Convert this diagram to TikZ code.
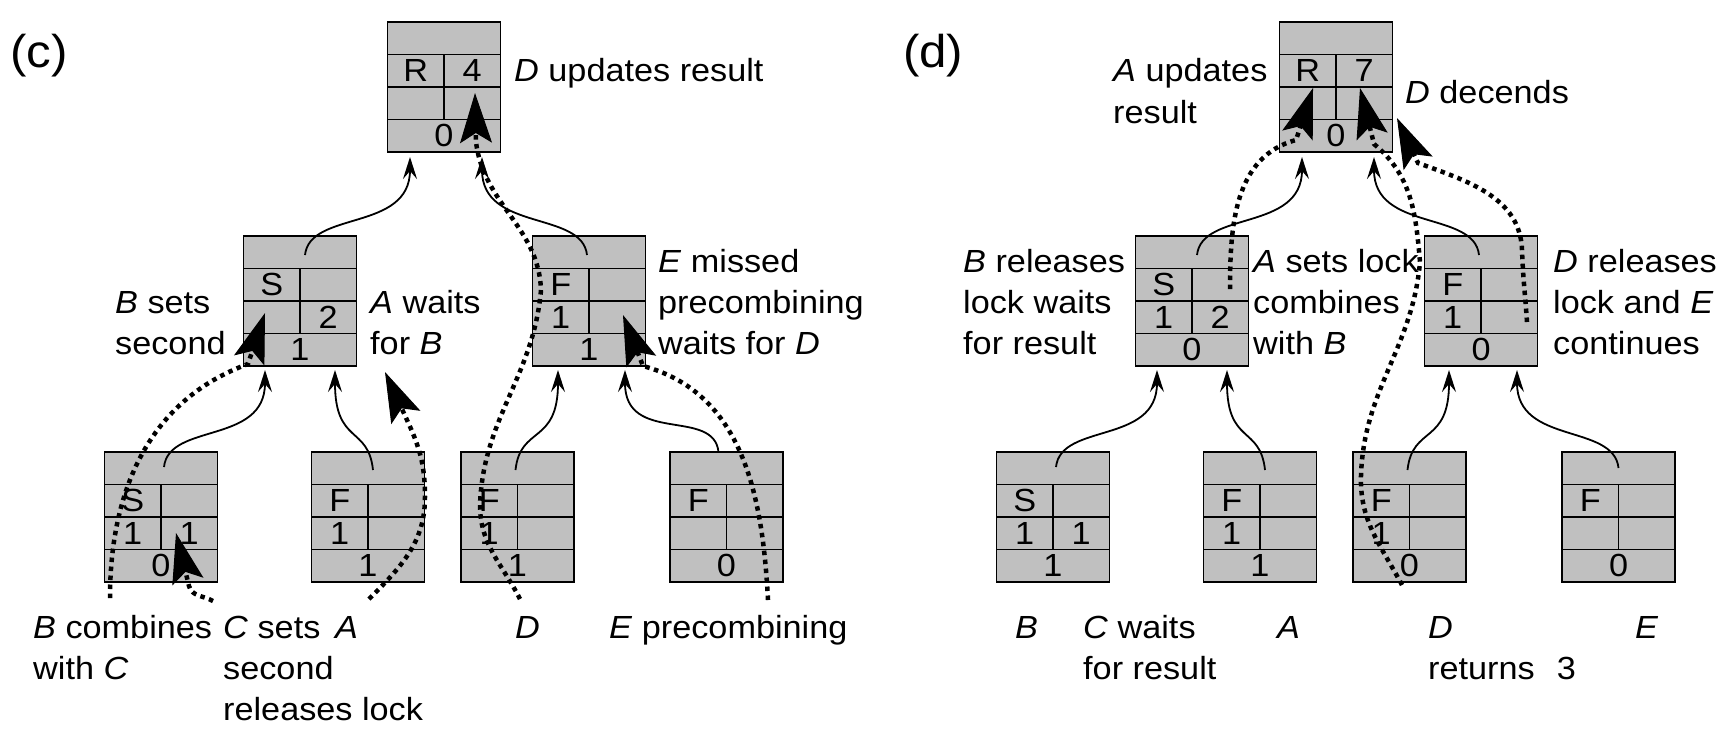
\documentclass[tikz,border=0pt]{standalone}
\usepackage{fontspec}
\setmainfont{Liberation Sans}[FakeStretch=1.07]
\usetikzlibrary{arrows.meta}
\definecolor{boxgray}{RGB}{192,192,192}
\newcommand\cellbox[8]{%
  \node[box] (#1) at (#2,#3) {};
  \draw[gridline] ([yshift=-32.5pt]#1.north west) -- ([yshift=-32.5pt]#1.north east);
  \draw[gridline] ([yshift=-65pt]#1.north west) -- ([yshift=-65pt]#1.north east);
  \draw[gridline] ([yshift=32.5pt]#1.south west) -- ([yshift=32.5pt]#1.south east);
  \draw[gridline] ([yshift=-32.5pt]#1.north) -- ([yshift=32.5pt]#1.south);
  \node[celltxt] (#1-a) at ([xshift=-28.25pt,yshift=-48.75pt]#1.north) {#4};
  \node[celltxt] (#1-b) at ([xshift=28.25pt,yshift=-48.75pt]#1.north) {#5};
  \node[celltxt] (#1-c) at ([xshift=-28.25pt,yshift=-81.25pt]#1.north) {#6};
  \node[celltxt] (#1-d) at ([xshift=28.25pt,yshift=-81.25pt]#1.north) {#7};
  \node[celltxt] (#1-e) at ([yshift=16.25pt]#1.south) {#8};
}
\newcommand\mylab[4]{\node[lab] (#1) at (#2,#3) {#4};}
\begin{document}
\begin{tikzpicture}[x=1pt,y=1pt,
  every node/.style={font=\fontsize{32pt}{41pt}\selectfont},
  box/.style={draw=black,line width=1.7pt,fill=boxgray,minimum width=113pt,minimum height=130pt,inner sep=0pt,outer sep=0pt},
  gridline/.style={line width=1.5pt},
  celltxt/.style={inner sep=0pt,text height=22pt,text depth=0pt},
  lab/.style={inner sep=0pt,anchor=base west},
  tag/.style={lab,font=\fontsize{46pt}{52pt}\selectfont},
  conn/.style={line width=1.8pt,-{Stealth[length=22pt,width=14pt,inset=8pt]}},
  dotp/.style={line width=4.5pt,dash pattern=on 4.5pt off 4.5pt,-{Stealth[length=50pt,width=32pt,inset=10pt,line width=1pt]}},
  upr/.style={out=84,in=-90,out distance=45pt,in distance=75pt},
  upl/.style={out=96,in=-90,out distance=45pt,in distance=75pt},
]
\fill[white] (0,0) rectangle (1731,-740);
\useasboundingbox (0,0) rectangle (1731,-740);

% ---------------- panel (c) ----------------
\cellbox{cR}{444}{-87}{R}{4}{}{}{0}
\cellbox{cML}{300}{-301}{S}{}{}{2}{1}
\cellbox{cMR}{589}{-301}{F}{}{1}{}{1}
\cellbox{cB1}{161}{-517}{S}{}{1}{1}{0}
\cellbox{cB2}{368}{-517}{F}{}{1}{}{1}
\cellbox{cB3}{517.5}{-517}{F}{}{1}{}{1}
\cellbox{cB4}{726.5}{-517}{F}{}{}{}{0}

\draw[conn] ([xshift=3pt,yshift=-15pt]cB1.north) to[upr] ([xshift=-35pt,yshift=-4pt]cML.south);
\draw[conn] ([xshift=5pt,yshift=-18pt]cB2.north) to[upl] ([xshift=35pt,yshift=-4pt]cML.south);
\draw[conn] ([xshift=-2pt,yshift=-18pt]cB3.north) to[upr] ([xshift=-31pt,yshift=-4pt]cMR.south);
\draw[conn] ([xshift=-8pt,yshift=0pt]cB4.north) to[upl] ([xshift=36pt,yshift=-4pt]cMR.south);
\draw[conn] ([xshift=5pt,yshift=-19pt]cML.north) to[upr] ([xshift=-34pt,yshift=-5pt]cR.south);
\draw[conn] ([xshift=-2pt,yshift=-19pt]cMR.north) to[upl] ([xshift=38pt,yshift=-5pt]cR.south);

\node[tag] (cTag) at (10,-67) {(c)};
\mylab{cL1}{514}{-81}{\textit{D} updates result}
\mylab{cL2a}{115}{-313}{\textit{B} sets}
\mylab{cL2b}{115}{-354}{second}
\mylab{cL3a}{370}{-313}{\textit{A} waits}
\mylab{cL3b}{370}{-354}{for \textit{B}}
\mylab{cL4a}{658}{-272}{\textit{E} missed}
\mylab{cL4b}{658}{-313}{precombining}
\mylab{cL4c}{658}{-354}{waits for \textit{D}}
\mylab{cL5a}{33}{-638}{\textit{B} combines}
\mylab{cL5b}{33}{-679}{with \textit{C}}
\mylab{cL6a}{223}{-638}{\textit{C} sets}
\mylab{cL6b}{223}{-679}{second}
\mylab{cL6c}{223}{-720}{releases lock}
\mylab{cL7}{335}{-638}{\textit{A}}
\mylab{cL8}{515}{-638}{\textit{D}}
\mylab{cL9}{609}{-638}{\textit{E} precombining}

\coordinate (cDs) at (520,-599);  \coordinate (cDt) at (475,-93);
\coordinate (cEs) at (768,-600);  \coordinate (cEt) at (623,-315);
\coordinate (cAs) at (369,-599);  \coordinate (cAt) at (385,-372);
\coordinate (cCs) at (213,-601);  \coordinate (cCt) at (176,-533);
\coordinate (cBs) at (110,-598);  \coordinate (cBt) at (265,-313);
\draw[dotp] (cDs) to[out=117,in=-90] (480,-505) to[out=88,in=-95] (541,-290) to[out=92,in=-83] (476,-142) -- (cDt);
\draw[dotp] (cEs) to[out=93,in=-15] (643,-366) -- (cEt);
\draw[dotp] (cAs) to[out=45,in=-90] (425,-497) to[out=90,in=-65] (407,-420) -- (cAt);
\draw[dotp] (cCs) to[out=150,in=-75] (189,-586) -- (cCt);
\draw[dotp] (cBs) to[out=90,in=200] (248,-364) -- (cBt);

% ---------------- panel (d) ----------------
\cellbox{dR}{1336}{-87}{R}{7}{}{}{0}
\cellbox{dML}{1192}{-301}{S}{}{1}{2}{0}
\cellbox{dMR}{1481}{-301}{F}{}{1}{}{0}
\cellbox{dB1}{1053}{-517}{S}{}{1}{1}{1}
\cellbox{dB2}{1260}{-517}{F}{}{1}{}{1}
\cellbox{dB3}{1409.5}{-517}{F}{}{1}{}{0}
\cellbox{dB4}{1618.5}{-517}{F}{}{}{}{0}

\draw[conn] ([xshift=3pt,yshift=-15pt]dB1.north) to[upr] ([xshift=-35pt,yshift=-4pt]dML.south);
\draw[conn] ([xshift=5pt,yshift=-18pt]dB2.north) to[upl] ([xshift=35pt,yshift=-4pt]dML.south);
\draw[conn] ([xshift=-2pt,yshift=-18pt]dB3.north) to[upr] ([xshift=-32pt,yshift=-4pt]dMR.south);
\draw[conn] ([xshift=0pt,yshift=-16pt]dB4.north) to[upl] ([xshift=36pt,yshift=-4pt]dMR.south);
\draw[conn] ([xshift=5pt,yshift=-19pt]dML.north) to[upr] ([xshift=-34pt,yshift=-5pt]dR.south);
\draw[conn] ([xshift=-2pt,yshift=-19pt]dMR.north) to[upl] ([xshift=38pt,yshift=-5pt]dR.south);

\node[tag] (dTag) at (903,-67) {(d)};
\mylab{dL1a}{1113}{-81.5}{\textit{A} updates}
\mylab{dL1b}{1113}{-123}{result}
\mylab{dL2}{1405}{-103}{\textit{D} decends}
\mylab{dL3a}{963}{-272}{\textit{B} releases}
\mylab{dL3b}{963}{-313}{lock waits}
\mylab{dL3c}{963}{-354}{for result}
\mylab{dL4a}{1253}{-272}{\textit{A} sets lock}
\mylab{dL4b}{1253}{-313}{combines}
\mylab{dL4c}{1253}{-354}{with \textit{B}}
\mylab{dL5a}{1553}{-272}{\textit{D} releases}
\mylab{dL5b}{1553}{-313}{lock and \textit{E}}
\mylab{dL5c}{1553}{-354}{continues}
\mylab{dL6}{1015}{-638}{\textit{B}}
\mylab{dL7a}{1083}{-638}{\textit{C} waits}
\mylab{dL7b}{1083}{-679}{for result}
\mylab{dL8}{1277}{-638}{\textit{A}}
\mylab{dL9a}{1428}{-638}{\textit{D}}
\mylab{dL9b}{1428}{-679}{returns\hspace{22pt}3}
\mylab{dL10}{1635}{-638}{\textit{E}}

\coordinate (dAs) at (1230,-289);  \coordinate (dAt) at (1313,-88);
\coordinate (dDs) at (1402,-585);  \coordinate (dDt) at (1360,-88);
\coordinate (dEs) at (1527,-322);  \coordinate (dEt) at (1397,-118);
\draw[dotp] (dAs) to[out=90,in=195] (1296,-140) -- (dAt);
\draw[dotp] (dDs) to[out=118,in=-92] (1361,-475) to[out=88,in=-95] (1420,-262) to[out=95,in=-40] (1374,-144) -- (dDt);
\draw[dotp] (dEs) to[out=94,in=-88] (1522,-250) to[out=92,in=-20] (1418,-163) -- (dEt);
\end{tikzpicture}
\end{document}
